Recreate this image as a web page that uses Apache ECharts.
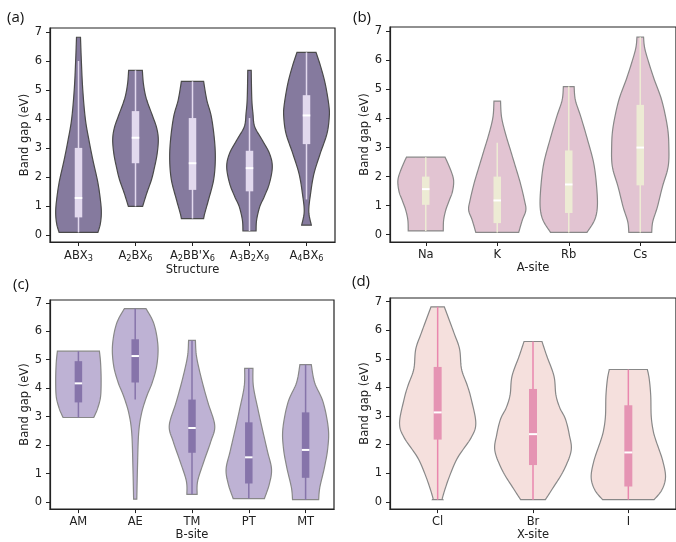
<!DOCTYPE html>
<html><head><meta charset="utf-8">
<script src="https://cdn.jsdelivr.net/npm/echarts@6/dist/echarts.min.js"></script>
<style>html,body{margin:0;padding:0;background:#fff}#c{width:676px;height:542px}</style>
</head><body><div id="c"></div><script>
// ---------- DATA ----------
const yTicks = [0, 1, 2, 3, 4, 5, 6, 7];

// (a) Structure
const structureCats = ['ABX\u2083', 'A\u2082BX\u2086', "A\u2082BB'X\u2086", 'A\u2083B\u2082X\u2089', 'A\u2084BX\u2086'];
// violin outline: [band gap, half width as fraction of category band], top to bottom
const structureProfiles = [
  [[6.82,0.035],[6.0,0.05],[5.0,0.075],[4.0,0.12],[3.3,0.18],[2.6,0.25],[1.8,0.34],[1.1,0.39],[0.7,0.40],[0.35,0.38],[0.08,0.34]],
  [[5.68,0.12],[5.2,0.14],[4.7,0.19],[4.1,0.30],[3.7,0.37],[3.3,0.40],[2.8,0.38],[2.3,0.33],[1.9,0.28],[1.45,0.20],[0.98,0.125]],
  [[5.3,0.195],[4.66,0.25],[4.08,0.33],[3.28,0.385],[2.58,0.40],[1.89,0.37],[1.2,0.28],[0.74,0.215],[0.56,0.195]],
  [[5.68,0.03],[4.7,0.04],[4.2,0.06],[3.74,0.09],[3.28,0.22],[2.81,0.35],[2.35,0.40],[1.78,0.35],[1.32,0.26],[0.97,0.18],[0.51,0.125],[0.13,0.115]],
  [[6.3,0.167],[5.8,0.25],[5.2,0.33],[4.5,0.39],[4.1,0.40],[3.5,0.36],[2.8,0.24],[2.1,0.13],[1.4,0.07],[0.8,0.04],[0.33,0.085]]
];
// [whisker low, q1, median, q3, whisker high]
const structureStats = [
  [0.08,0.6,1.27,3.0,6.0],
  [0.98,2.47,3.35,4.27,5.68],
  [0.56,1.55,2.47,4.03,5.3],
  [0.13,1.5,2.3,2.9,4.03],
  [1.22,3.13,4.12,4.82,6.3]
];

// (b) A-site
const aSiteCats = ['Na', 'K', 'Rb', 'Cs'];
const aSiteProfiles = [
  [[2.67,0.27],[2.34,0.33],[2.0,0.38],[1.76,0.39],[1.45,0.37],[1.19,0.33],[0.85,0.28],[0.5,0.25],[0.13,0.245]],
  [[4.6,0.046],[4.05,0.06],[3.48,0.115],[2.91,0.185],[2.34,0.255],[1.76,0.325],[1.19,0.38],[0.85,0.40],[0.5,0.35],[0.08,0.30]],
  [[5.1,0.075],[4.63,0.093],[4.05,0.17],[3.25,0.265],[2.45,0.35],[1.65,0.39],[0.96,0.40],[0.5,0.36],[0.08,0.255]],
  [[6.8,0.046],[6.34,0.07],[5.42,0.185],[4.63,0.30],[3.71,0.38],[3.02,0.40],[2.34,0.39],[1.65,0.31],[0.96,0.24],[0.45,0.175],[0.08,0.16]]
];
const aSiteStats = [
  [0.13,1.03,1.57,2.0,2.67],
  [0.08,0.4,1.18,2.0,3.17],
  [0.08,0.75,1.73,2.9,5.1],
  [0.08,1.7,3.0,4.47,6.8]
];

// (c) B-site
const bSiteCats = ['AM', 'AE', 'TM', 'PT', 'MT'];
const bSiteProfiles = [
  [[5.3,0.37],[4.9,0.39],[4.3,0.40],[3.7,0.39],[3.3,0.34],[3.1,0.30],[2.97,0.27]],
  [[6.8,0.19],[6.26,0.33],[5.5,0.40],[4.8,0.38],[4.2,0.30],[3.7,0.20],[3.1,0.11],[2.4,0.06],[1.2,0.04],[0.1,0.028]],
  [[5.68,0.06],[5.11,0.08],[4.3,0.17],[3.5,0.28],[2.69,0.40],[2.12,0.33],[1.43,0.21],[0.74,0.10],[0.27,0.09]],
  [[4.7,0.073],[4.07,0.08],[3.27,0.16],[2.46,0.25],[1.77,0.33],[1.15,0.40],[0.62,0.36],[0.12,0.275]],
  [[4.83,0.10],[4.19,0.16],[3.5,0.31],[2.58,0.40],[1.89,0.39],[1.2,0.33],[0.51,0.25],[0.08,0.23]]
];
const bSiteStats = [
  [2.97,3.5,4.17,4.95,5.3],
  [3.6,4.2,5.13,5.72,6.8],
  [0.27,1.73,2.6,3.6,5.68],
  [0.12,0.65,1.57,2.8,4.7],
  [0.08,0.85,1.83,3.15,4.83]
];

// (d) X-site
const xSiteCats = ['Cl', 'Br', 'I'];
const xSiteProfiles = [
  [[6.82,0.07],[5.92,0.17],[5.34,0.23],[4.65,0.25],[4.08,0.31],[3.62,0.35],[2.76,0.40],[2.24,0.35],[1.55,0.21],[0.86,0.12],[0.17,0.052],[0.08,0.055]],
  [[5.61,0.094],[5.1,0.145],[4.4,0.22],[3.75,0.24],[3.3,0.28],[2.9,0.34],[2.36,0.38],[1.79,0.40],[1.09,0.32],[0.52,0.215],[0.08,0.13]],
  [[4.63,0.20],[4.28,0.22],[3.71,0.235],[3.0,0.24],[2.5,0.26],[2.14,0.29],[1.45,0.36],[0.86,0.39],[0.41,0.35],[0.08,0.27]]
];
const xSiteStats = [
  [0.08,2.18,3.13,4.72,6.82],
  [0.08,1.29,2.37,3.95,5.61],
  [0.08,0.54,1.73,3.38,4.63]
];

// ---------- STYLE / LAYOUT ----------
const FONT = 'DejaVu Sans';
const FS = 11.5;
const panels = [
  {cats: structureCats, profiles: structureProfiles, stats: structureStats, xName: 'Structure', tag: '(a)',
   grid: {left: 50, top: 28, width: 285, height: 214}, max: 7.14, tagPos: [7, 10],
   fill: '#857A9E', box: '#E2D9EE', whisker: '#E2D9EE', edge: '#4A4A4A', boxW: 7.5},
  {cats: aSiteCats, profiles: aSiteProfiles, stats: aSiteStats, xName: 'A-site', tag: '(b)',
   grid: {left: 390, top: 27, width: 288, height: 215}, max: 7.15, tagPos: [353, 10],
   fill: '#E2C4D2', box: '#EDEBD4', whisker: '#EDEBD4', edge: '#888888', boxW: 7.5},
  {cats: bSiteCats, profiles: bSiteProfiles, stats: bSiteStats, xName: 'B-site', tag: '(c)',
   grid: {left: 50, top: 300, width: 284, height: 213}, max: 7.1, tagPos: [13, 277],
   fill: '#BEB2D4', box: '#8674AA', whisker: '#8674AA', edge: '#888888', boxW: 7.5},
  {cats: xSiteCats, profiles: xSiteProfiles, stats: xSiteStats, xName: 'X-site', tag: '(d)',
   grid: {left: 390, top: 298, width: 288, height: 215}, max: 7.13, tagPos: [352, 274],
   fill: '#F5E0DD', box: '#E594B3', whisker: '#E987AE', edge: '#888888', boxW: 8}
];

const SUB = {'\u2080':'0','\u2081':'1','\u2082':'2','\u2083':'3','\u2084':'4','\u2085':'5','\u2086':'6','\u2087':'7','\u2088':'8','\u2089':'9'};
function subFormat(v) {
  return String(v).replace(/[\u2080-\u2089]+/g, m => '{s|' + m.split('').map(c => SUB[c]).join('') + '}');
}

function spline(pts, n) {
  const out = [pts[0]];
  for (let k = 0; k < pts.length - 1; k++) {
    const p0 = pts[Math.max(k - 1, 0)], p1 = pts[k], p2 = pts[k + 1], p3 = pts[Math.min(k + 2, pts.length - 1)];
    for (let s = 1; s <= n; s++) {
      const t = s / n, t2 = t * t, t3 = t2 * t;
      const f = (a, b, c, d) => 0.5 * (2 * b + (-a + c) * t + (2 * a - 5 * b + 4 * c - d) * t2 + (-a + 3 * b - 3 * c + d) * t3);
      out.push([f(p0[0], p1[0], p2[0], p3[0]), f(p0[1], p1[1], p2[1], p3[1])]);
    }
  }
  return out;
}

function makeRender(p) {
  return function (params, api) {
    const i = api.value(0);
    const prof = p.profiles[i];
    const st = p.stats[i];
    const band = api.size([1, 0])[0];
    const cx = api.coord([i, 0])[0];
    const right = prof.map(d => [cx + d[1] * band, api.coord([i, d[0]])[1]]);
    const rs = spline(right, 10);
    const ls = rs.map(pt => [2 * cx - pt[0], pt[1]]).reverse();
    const poly = rs.concat(ls);
    const y = v => api.coord([i, v])[1];
    const bw = p.boxW;
    return {
      type: 'group',
      children: [
        {type: 'polygon', shape: {points: poly}, style: {fill: p.fill, stroke: p.edge, lineWidth: 1.2}},
        {type: 'line', shape: {x1: cx, y1: y(st[0]), x2: cx, y2: y(st[4])}, style: {stroke: p.whisker, lineWidth: 1.5}},
        {type: 'rect', shape: {x: cx - bw / 2, y: y(st[3]), width: bw, height: y(st[1]) - y(st[3])}, style: {fill: p.box}},
        {type: 'line', shape: {x1: cx - bw / 2, y1: y(st[2]), x2: cx + bw / 2, y2: y(st[2])}, style: {stroke: '#ffffff', lineWidth: 2}}
      ]
    };
  };
}

const axisColor = '#222222';
const option = {
  animation: false,
  backgroundColor: '#ffffff',
  grid: panels.map(p => Object.assign({show: true, borderColor: axisColor, borderWidth: 1.2, backgroundColor: 'transparent'}, p.grid)),
  xAxis: panels.map((p, gi) => ({
    type: 'category', gridIndex: gi, data: p.cats, boundaryGap: true,
    name: p.xName, nameLocation: 'middle', nameGap: 19,
    nameTextStyle: {fontFamily: FONT, fontSize: FS, color: axisColor},
    axisLine: {show: true, onZero: false, lineStyle: {color: axisColor, width: 1.2}},
    axisTick: {show: true, alignWithLabel: true, length: 4, lineStyle: {color: axisColor, width: 1}},
    axisLabel: {fontFamily: FONT, fontSize: FS, color: axisColor, margin: 7, interval: 0,
      formatter: subFormat,
      rich: {s: {fontFamily: FONT, fontSize: 8.2, color: axisColor, padding: [6, 0, 0, 0]}}},
    splitLine: {show: false}
  })),
  yAxis: panels.map((p, gi) => ({
    type: 'value', gridIndex: gi, min: -0.25, max: p.max,
    name: 'Band gap (eV)', nameLocation: 'middle', nameGap: 17,
    nameTextStyle: {fontFamily: FONT, fontSize: FS, color: axisColor},
    axisLine: {show: true, onZero: false, lineStyle: {color: axisColor, width: 1.2}},
    axisTick: {show: true, length: 4, lineStyle: {color: axisColor, width: 1}, customValues: yTicks},
    axisLabel: {fontFamily: FONT, fontSize: FS, color: axisColor, margin: 8, customValues: yTicks,
      formatter: v => (Math.abs(v - Math.round(v)) < 1e-9 ? String(Math.round(v)) : '')},
    splitLine: {show: false}
  })),
  series: panels.map((p, gi) => ({
    type: 'custom', xAxisIndex: gi, yAxisIndex: gi,
    renderItem: makeRender(p),
    encode: {x: 0, y: [1, 2]},
    data: p.stats.map((s, i) => [i, s[0], s[4]]),
    clip: false
  })),
  graphic: panels.map(p => ({
    type: 'text', left: p.tagPos[0], top: p.tagPos[1],
    style: {text: p.tag, font: '15px "Open Sans"', fill: '#111'}
  }))
};

const chart = echarts.init(document.getElementById('c'), null, {renderer: 'canvas'});
chart.setOption(option);
</script></body></html>
